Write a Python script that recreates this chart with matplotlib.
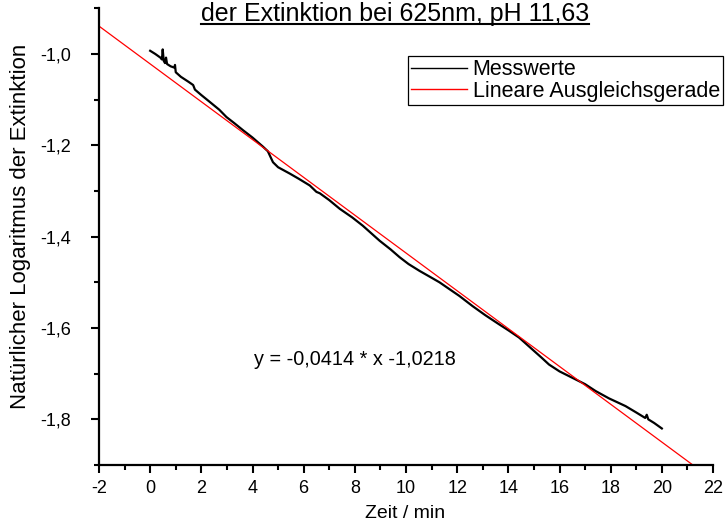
import numpy as np
import matplotlib.pyplot as plt
from matplotlib.ticker import MultipleLocator, FuncFormatter
from matplotlib.lines import Line2D

plt.rcParams['font.family'] = ['Liberation Sans', 'DejaVu Sans']

zeit = [0.0, 0.2, 0.4, 0.46, 0.49, 0.53, 0.58, 0.62, 0.66, 0.8, 0.95, 0.97, 1.0,
        1.2, 1.5, 1.68, 1.75, 2.0, 2.33, 2.7, 2.98, 3.3, 3.63, 4.0, 4.41, 4.6,
        4.8, 5.0, 5.46, 5.8, 6.24, 6.5, 6.63, 7.0, 7.41, 7.9, 8.31, 8.97, 9.4,
        9.75, 10.1, 10.53, 11.0, 11.31, 11.7, 12.09, 12.6, 13.1, 13.64, 14.0,
        14.42, 14.94, 15.3, 15.59, 16.0, 16.5, 17.0, 17.41, 17.93, 18.58, 19.0,
        19.35, 19.41, 19.47, 19.7, 20.0]
ln_ext = [-0.993, -1.000, -1.008, -1.012, -0.990, -1.015, -1.020, -1.008, -1.022,
          -1.027, -1.030, -1.024, -1.040, -1.050, -1.061, -1.068, -1.078, -1.090,
          -1.105, -1.122, -1.138, -1.152, -1.167, -1.183, -1.203, -1.213, -1.237,
          -1.248, -1.262, -1.273, -1.288, -1.302, -1.305, -1.320, -1.339, -1.358,
          -1.376, -1.409, -1.428, -1.445, -1.460, -1.475, -1.490, -1.500, -1.515,
          -1.530, -1.552, -1.572, -1.592, -1.605, -1.621, -1.647, -1.665, -1.680,
          -1.695, -1.709, -1.723, -1.738, -1.754, -1.771, -1.785, -1.797, -1.790,
          -1.800, -1.808, -1.820]

# lineare Ausgleichsgerade
steigung = -0.0414
achse = -1.0218
fit_x = np.array([-2.0, 22.0])
fit_y = steigung * fit_x + achse

W, H = 725, 529
fig = plt.figure(figsize=(W / 100, H / 100), dpi=100)
ax = fig.add_axes([99 / W, 1 - 465 / H, 614 / W, 456.7 / H])

ax.plot(zeit, ln_ext, color='black', lw=1.6, label='Messwerte')
ax.plot(fit_x, fit_y, color='red', lw=0.9, label='Lineare Ausgleichsgerade')

ax.set_xlim(-2, 22)
ax.set_ylim(-1.9, -0.9)
ax.xaxis.set_major_locator(MultipleLocator(2))
ax.xaxis.set_minor_locator(MultipleLocator(1))
ax.yaxis.set_major_locator(MultipleLocator(0.2))
ax.yaxis.set_minor_locator(MultipleLocator(0.1))
ax.yaxis.set_major_formatter(FuncFormatter(lambda v, p: f'{v:.1f}'.replace('.', ',')))
ax.xaxis.set_major_formatter(FuncFormatter(lambda v, p: f'{v:.0f}'))

ax.spines['top'].set_visible(False)
ax.spines['right'].set_visible(False)
ax.spines['left'].set_linewidth(1.6)
ax.spines['bottom'].set_linewidth(1.6)
ax.tick_params(which='major', direction='out', length=6, width=1.5, labelsize=13)
ax.tick_params(which='minor', direction='out', length=3.5, width=1.5)
ax.tick_params(axis='x', which='major', pad=5)
ax.tick_params(axis='y', which='major', pad=14)

fig.text(405 / W, 1 - 514 / H, 'Zeit / min', fontsize=14, ha='center', va='center')
fig.text(21 / W, 1 - 226 / H, 'Natürlicher Logaritmus der Extinktion', fontsize=16,
         rotation=90, ha='center', va='center')

ax.text(8.0, -1.67, 'y = -0,0414 * x -1,0218', fontsize=14.3, ha='center', va='center')

leg = ax.legend(loc='upper left', bbox_to_anchor=(408 / W, 1 - 56 / H),
                bbox_transform=fig.transFigure, fontsize=15.5, frameon=True,
                fancybox=False, framealpha=1, edgecolor='black',
                handlelength=2.6, borderpad=0.15, labelspacing=0.02,
                handletextpad=0.25, borderaxespad=0)
leg.get_frame().set_linewidth(0.9)
for h in leg.legend_handles:
    h.set_linewidth(1.0)

title = fig.text(395 / W, 1 - 20.5 / H, 'der Extinktion bei 625nm, pH 11,63',
                 fontsize=18, ha='center', va='baseline')

# unterstreichen
fig.canvas.draw()
bb = title.get_window_extent().transformed(fig.transFigure.inverted())
fig.add_artist(Line2D([bb.x0, bb.x1], [1 - 24 / H, 1 - 24 / H],
                      transform=fig.transFigure, color='black', lw=1.5))

fig.savefig('out.png', dpi=100)
